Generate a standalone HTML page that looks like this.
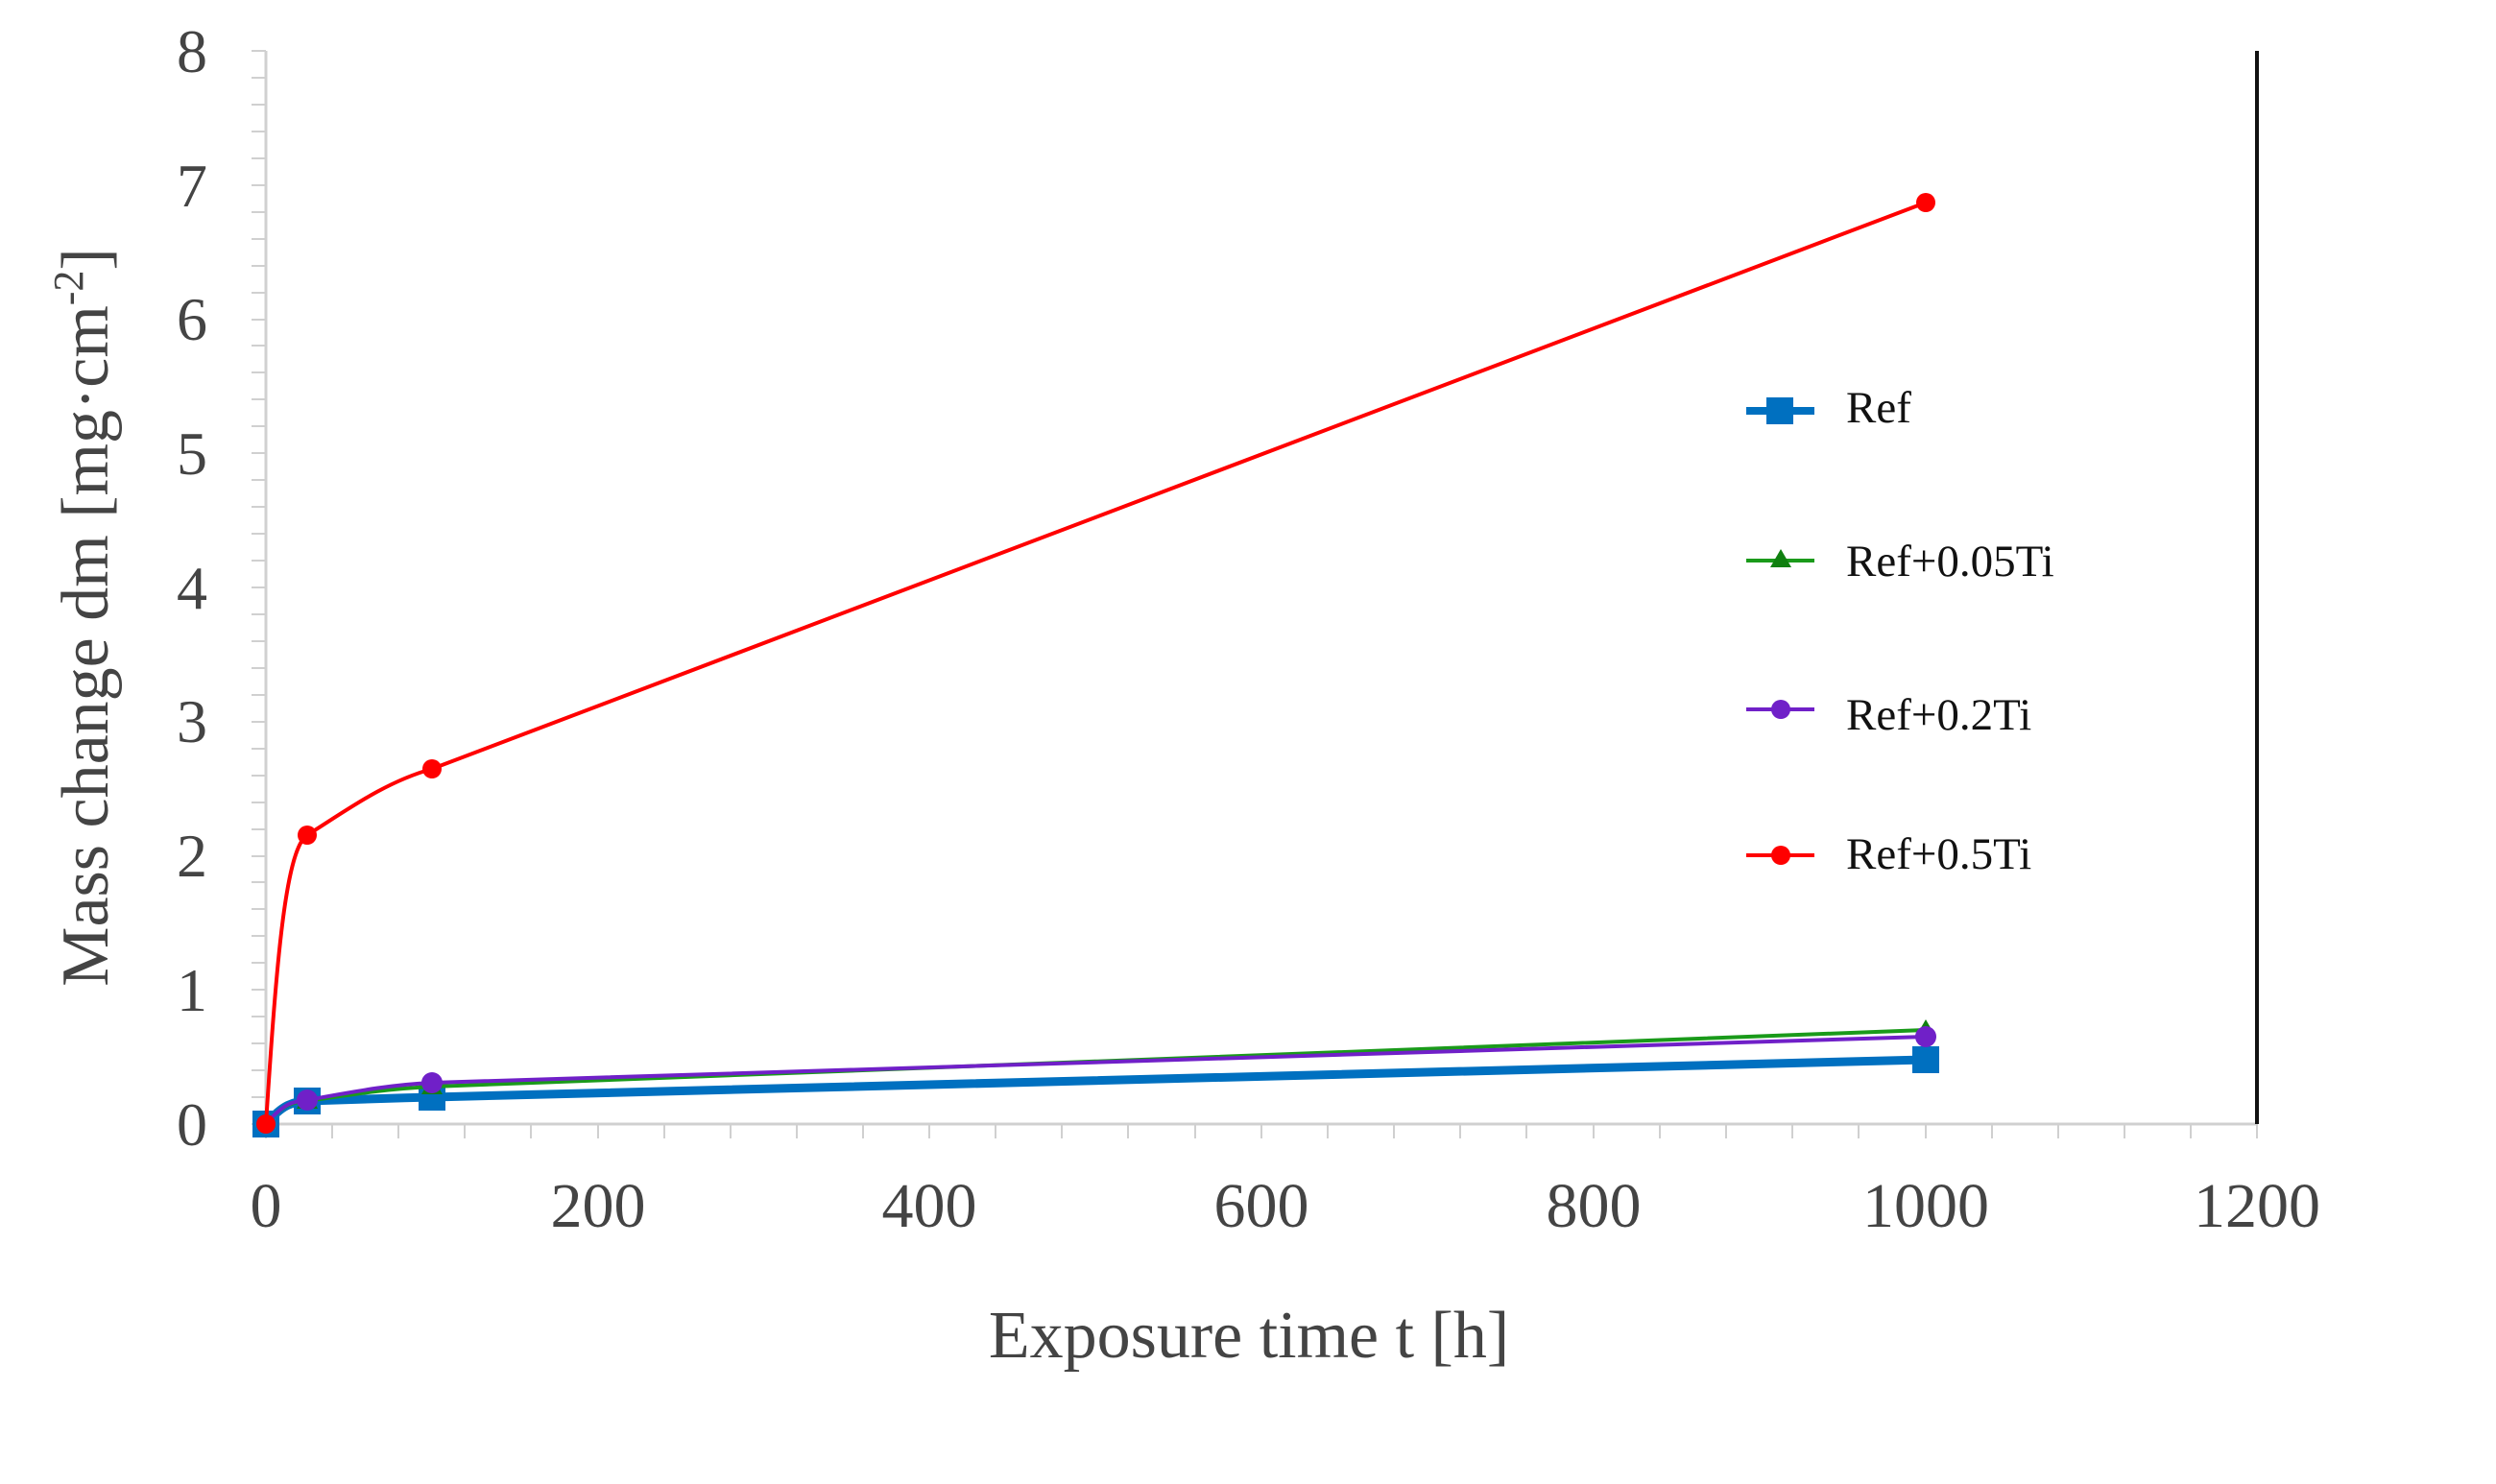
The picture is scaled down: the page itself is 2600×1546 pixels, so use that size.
<!DOCTYPE html>
<html><head><meta charset="utf-8"><style>
html,body{margin:0;padding:0;background:#fff;}
svg{display:block;}
text{font-family:"Liberation Serif",serif;}
</style></head><body>
<svg width="2600" height="1546" viewBox="0 0 2600 1546" xmlns="http://www.w3.org/2000/svg">
<rect width="2600" height="1546" fill="#fff"/>
<g stroke="#d0d0d0" stroke-width="3" fill="none">
<line x1="277" y1="53" x2="277" y2="1171"/>
<line x1="277" y1="1171" x2="2351" y2="1171"/>
</g>
<line x1="2351" y1="53" x2="2351" y2="1171" stroke="#111" stroke-width="4"/>
<g stroke="#d0d0d0" stroke-width="2">
<path d="M262 1171H277M262 1143H277M262 1115H277M262 1087H277M262 1059H277M262 1031H277M262 1003H277M262 975H277M262 947H277M262 919H277M262 892H277M262 864H277M262 836H277M262 808H277M262 780H277M262 752H277M262 724H277M262 696H277M262 668H277M262 640H277M262 612H277M262 584H277M262 556H277M262 528H277M262 500H277M262 472H277M262 444H277M262 416H277M262 388H277M262 360H277M262 333H277M262 305H277M262 277H277M262 249H277M262 221H277M262 193H277M262 165H277M262 137H277M262 109H277M262 81H277M262 53H277"/>
<path d="M277 1171V1186M346 1171V1186M415 1171V1186M484 1171V1186M553 1171V1186M623 1171V1186M692 1171V1186M761 1171V1186M830 1171V1186M899 1171V1186M968 1171V1186M1037 1171V1186M1106 1171V1186M1175 1171V1186M1245 1171V1186M1314 1171V1186M1383 1171V1186M1452 1171V1186M1521 1171V1186M1590 1171V1186M1660 1171V1186M1729 1171V1186M1798 1171V1186M1867 1171V1186M1936 1171V1186M2006 1171V1186M2075 1171V1186M2144 1171V1186M2213 1171V1186M2282 1171V1186M2351 1171V1186"/>
</g>
<g fill="#444" font-size="64" text-anchor="middle">
<text x="200" y="1193">0</text>
<text x="200" y="1053">1</text>
<text x="200" y="913">2</text>
<text x="200" y="773">3</text>
<text x="200" y="634">4</text>
<text x="200" y="494">5</text>
<text x="200" y="354">6</text>
<text x="200" y="215">7</text>
<text x="200" y="75">8</text>
</g>
<g fill="#444" font-size="66" text-anchor="middle" textLength="0">
<text x="277" y="1278">0</text>
<text x="623" y="1278">200</text>
<text x="968" y="1278">400</text>
<text x="1314" y="1278">600</text>
<text x="1660" y="1278">800</text>
<text x="2006" y="1278">1000</text>
<text x="2351" y="1278">1200</text>
</g>
<text x="1301" y="1414" fill="#444" font-size="70" text-anchor="middle">Exposure time t [h]</text>
<text transform="translate(112,643) rotate(-90)" fill="#444" font-size="70" text-anchor="middle">Mass change dm [mg·cm<tspan dy="-26" font-size="44">-2</tspan><tspan dy="26">]</tspan></text>
<path d="M277 1171 C295 1150,305 1148,320 1147 C380 1145,410 1144,450 1143 L2006 1104" stroke="#0070c0" stroke-width="9" fill="none"/>
<g fill="#0070c0"><rect x="263" y="1157" width="28" height="28"/><rect x="306" y="1133" width="28" height="28"/><rect x="436" y="1129" width="28" height="28"/><rect x="1992" y="1090" width="28" height="28"/></g>
<path d="M277 1171 C295 1150,305 1148,320 1147 C380 1138,410 1134,450 1132 L2006 1073" stroke="#1a9a1a" stroke-width="4" fill="none"/>
<g fill="#108010"><path d="M320 1136 L331 1155 L309 1155Z"/><path d="M450 1121 L461 1140 L439 1140Z"/><path d="M2006 1062 L2017 1081 L1995 1081Z"/></g>
<path d="M277 1171 C295 1150,305 1147,320 1146 C380 1135,410 1130,450 1128 L2006 1080" stroke="#7020c8" stroke-width="4" fill="none"/>
<g fill="#7020c8"><circle cx="320" cy="1146" r="11"/><circle cx="450" cy="1128" r="11"/><circle cx="2006" cy="1080" r="11"/></g>
<path d="M277 1171 C287 1020,296 885,320 870 C360 845,400 815,450 801 L2006 211" stroke="#ff0000" stroke-width="4" fill="none"/>
<g fill="#ff0000"><circle cx="277" cy="1171" r="10"/><circle cx="320" cy="870" r="10"/><circle cx="450" cy="801" r="10"/><circle cx="2006" cy="211" r="10"/></g>
<line x1="1819" y1="428" x2="1890" y2="428" stroke="#0070c0" stroke-width="8"/>
<rect x="1840" y="414" width="28" height="28" fill="#0070c0"/>
<text x="1923" y="440" font-size="47" fill="#111">Ref</text>
<line x1="1819" y1="584" x2="1890" y2="584" stroke="#1a9a1a" stroke-width="4"/>
<path d="M1855 572 L1866 591 L1844 591Z" fill="#108010"/>
<text x="1923" y="600" font-size="47" fill="#111">Ref+0.05Ti</text>
<line x1="1819" y1="739" x2="1890" y2="739" stroke="#7020c8" stroke-width="4"/>
<circle cx="1855" cy="739" r="10" fill="#7020c8"/>
<text x="1923" y="760" font-size="47" fill="#111">Ref+0.2Ti</text>
<line x1="1819" y1="891" x2="1890" y2="891" stroke="#ff0000" stroke-width="4"/>
<circle cx="1855" cy="891" r="10" fill="#ff0000"/>
<text x="1923" y="905" font-size="47" fill="#111">Ref+0.5Ti</text>
</svg>
</body></html>
